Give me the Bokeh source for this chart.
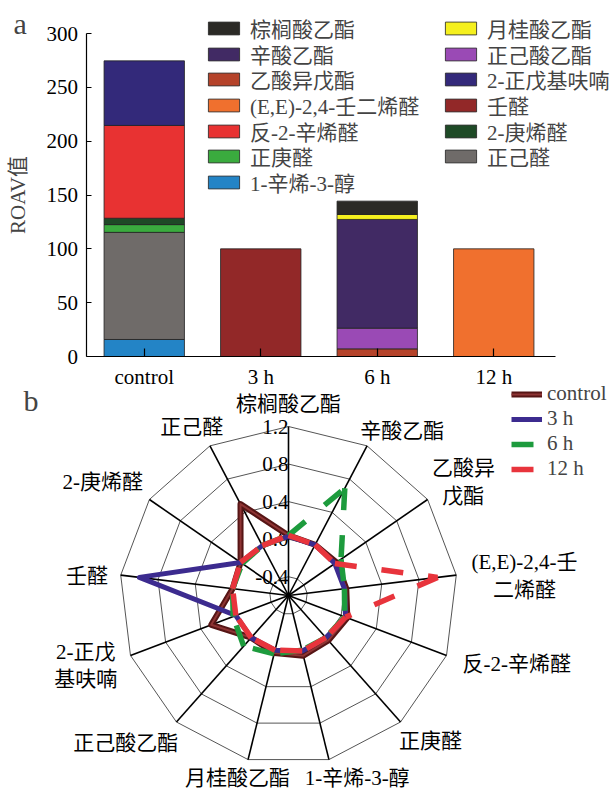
import math
from bokeh.plotting import figure
from bokeh.models import (Range1d, ColumnDataSource, Legend, LegendItem, Label,
                          FixedTicker, LinearAxis)
from bokeh.embed import file_html
from bokeh.resources import INLINE
from bokeh.core.properties import value

# ---------------- panel a data (ROAV) ----------------
categories = ["control", "3 h", "6 h", "12 h"]
y_ticks = [0, 50, 100, 150, 200, 250, 300]

# values for [control, 3 h, 6 h, 12 h]
octenol = [15.8, 0, 0, 0]            # 1-辛烯-3-醇
hexanal = [99.5, 0, 0, 0]            # 正己醛
heptanal = [7.2, 0, 0, 0]            # 正庚醛
heptenal = [5.9, 0, 0, 0]            # 2-庚烯醛
octenal = [86.2, 0, 0, 0]            # 反-2-辛烯醛
pentylfuran = [60.0, 0, 0, 0]        # 2-正戊基呋喃
nonanal = [0, 100.0, 0, 0]           # 壬醛
isoamyl_acetate = [0, 0, 7.1, 0]     # 乙酸异戊酯
ethyl_hexanoate = [0, 0, 19.2, 0]    # 正己酸乙酯
ethyl_octanoate = [0, 0, 101.0, 0]   # 辛酸乙酯
ethyl_laurate = [0, 0, 4.6, 0]       # 月桂酸乙酯
ethyl_palmitate = [0, 0, 12.4, 0]    # 棕榈酸乙酯
nonadienal = [0, 0, 0, 100.0]        # (E,E)-2,4-壬二烯醛

legend_left = ["棕榈酸乙酯", "辛酸乙酯", "乙酸异戊酯", "(E,E)-2,4-壬二烯醛",
               "反-2-辛烯醛", "正庚醛", "1-辛烯-3-醇"]
legend_right = ["月桂酸乙酯", "正己酸乙酯", "2-正戊基呋喃", "壬醛", "2-庚烯醛", "正己醛"]

# ---------------- panel b data (radar) ----------------
radar_axes = ["棕榈酸乙酯", "辛酸乙酯", "乙酸异\n戊酯", "(E,E)-2,4-壬\n二烯醛",
              "反-2-辛烯醛", "正庚醛", "1-辛烯-3-醇", "月桂酸乙酯", "正己酸乙酯",
              "2-正戊\n基呋喃", "壬醛", "2-庚烯醛", "正己醛"]
radar_ticks = [-0.4, 0.0, 0.4, 0.8, 1.2]
radar_series = ["control", "3 h", "6 h", "12 h"]
radar_control = [0.04, 0.01, 0.02, 0.02, 0.07, 0.04, 0.06, 0.03, 0.0, 0.28, 0.0, 0.02, 0.50]
radar_3h = [0.03, 0.01, 0.0, 0.0, 0.05, 0.0, 0.01, 0.0, 0.0, 0.0, 1.0, 0.02, 0.0]
radar_6h = [0.04, 0.69, 0.08, 0.0, 0.04, 0.0, 0.0, 0.04, 0.12, 0.03, 0.0, 0.0, 0.0]
radar_12h = [0.04, 0.01, 0.0, 1.0, 0.05, 0.0, 0.01, 0.0, 0.0, 0.0, 0.0, 0.02, 0.0]

FONT = "'Liberation Serif', 'Noto Sans CJK SC', serif"
FS = "21px"

# ---------------- layout constants (pixels) ----------------
W, H = 613, 792
BAR_X0, BAR_STEP = 85.5, 116.5          # pixel of category-axis origin, pixels per category
BAR_Y0, BAR_PPU = 356.0, 323.0 / 300.0  # pixel of ROAV 0, pixels per ROAV unit
CX, CY, R = 288.0, 595.0, 169.0         # radar centre and outer radius
LEG_TOP, LEG_PITCH, LEG_ITEM_H = 28.0, 25.7, 29.7   # bar legend rows
# small pixel nudges (dx right, dy up) for the radar's category labels
LABEL_NUDGE = [(0, 0), (10, -6), (0, -2), (4, -5), (9, 0), (1, -2), (13, 4),
               (5, 4), (-8, -4), (-4, 2), (-1, -4), (-4, 4), (2, -2)]

p = figure(width=W, height=H, x_range=Range1d(-CX, W - CX), y_range=Range1d(-(H - CY), CY),
           x_axis_location=None, y_axis_location=None, output_backend="svg",
           toolbar_location=None, min_border=0)
p.grid.visible = False
p.outline_line_color = None
p.extra_x_ranges = {"bar": Range1d(-BAR_X0 / BAR_STEP, (W - BAR_X0) / BAR_STEP)}
p.extra_y_ranges = {"bar": Range1d(-(H - BAR_Y0) / BAR_PPU, BAR_Y0 / BAR_PPU)}

# ================= panel a =================
stack = [
    ("1-辛烯-3-醇", octenol, "#2384c6"),
    ("正己醛", hexanal, "#6f6b69"),
    ("正庚醛", heptanal, "#3aab3e"),
    ("2-庚烯醛", heptenal, "#1e4a26"),
    ("反-2-辛烯醛", octenal, "#e83232"),
    ("2-正戊基呋喃", pentylfuran, "#33297a"),
    ("壬醛", nonanal, "#922828"),
    ("乙酸异戊酯", isoamyl_acetate, "#b5432a"),
    ("正己酸乙酯", ethyl_hexanoate, "#9a4ab5"),
    ("辛酸乙酯", ethyl_octanoate, "#412a64"),
    ("月桂酸乙酯", ethyl_laurate, "#f5f01e"),
    ("棕榈酸乙酯", ethyl_palmitate, "#2b2a26"),
    ("(E,E)-2,4-壬二烯醛", nonadienal, "#f0702e"),
]

base = [0.0] * len(categories)
bar_r = {}
for name, vals, color in stack:
    xs, bots, tops = [], [], []
    for i, v in enumerate(vals):
        if v > 0:
            xs.append(i + 0.5); bots.append(base[i]); tops.append(base[i] + v)
        base[i] += v
    src = ColumnDataSource(dict(x=xs, bottom=bots, top=tops))
    bar_r[name] = p.vbar(x="x", bottom="bottom", top="top", width=0.69, source=src,
                         fill_color=color, line_color="#222222", line_width=1, line_alpha=0.8,
                         x_range_name="bar", y_range_name="bar")

ya = LinearAxis(x_range_name="bar", y_range_name="bar", fixed_location=0,
                ticker=FixedTicker(ticks=y_ticks), bounds=(0, 300))
ya.major_tick_in = 5
ya.major_tick_out = 0
ya.minor_tick_line_color = None
ya.major_label_standoff = 8
ya.axis_label = "ROAV值"
ya.axis_label_standoff = 14
ya.axis_label_text_font = FONT
ya.axis_label_text_font_size = FS
ya.axis_label_text_font_style = "normal"

xa = LinearAxis(x_range_name="bar", y_range_name="bar", fixed_location=0,
                ticker=FixedTicker(ticks=[i + 0.5 for i in range(len(categories))]),
                bounds=(0, 4.03))
xa.major_label_overrides = {i + 0.5: c for i, c in enumerate(categories)}
xa.major_tick_in = 8
xa.major_tick_out = 0
xa.minor_tick_line_color = None
xa.major_label_standoff = 8

for ax in (xa, ya):
    ax.major_label_text_font = FONT
    ax.major_label_text_font_size = FS
    ax.major_label_text_color = "black"
    ax.axis_line_color = "black"
    ax.axis_line_width = 1.2
    ax.major_tick_line_color = "black"
    ax.major_tick_line_width = 1.2
p.add_layout(ya, "left")
p.add_layout(xa, "below")


def bar_legend(names, x_left):
    # one legend per row so the rows keep the reference's tight pitch
    for i, nm in enumerate(names):
        centre = LEG_TOP + i * LEG_PITCH
        lg = Legend(items=[LegendItem(label=nm, renderers=[bar_r[nm]])],
                    location=(x_left, H - (centre + LEG_ITEM_H / 2)),
                    glyph_width=39, glyph_height=16, label_standoff=7,
                    label_text_font=FONT, label_text_font_size=FS, label_height=20,
                    spacing=0, padding=0, margin=0, border_line_alpha=0,
                    background_fill_alpha=0)
        p.add_layout(lg)


bar_legend(legend_left, 204)
bar_legend(legend_right, 441)

p.add_layout(Label(x=13, y=H - 23, x_units="screen", y_units="screen", text="a",
                   text_font=FONT, text_font_size="30px", text_baseline="alphabetic"))

# ================= panel b =================
n = len(radar_axes)
VMIN, VMAX = -0.6, 1.2
ang = [2 * math.pi * i / n for i in range(n)]


def rad(v):
    return (v - VMIN) / (VMAX - VMIN) * R


ring_xs, ring_ys = [], []
for t in radar_ticks:
    rr = rad(t)
    ring_xs.append([rr * math.sin(a) for a in ang] + [0.0])
    ring_ys.append([rr * math.cos(a) for a in ang] + [rr])
p.multi_line(xs=ring_xs, ys=ring_ys, line_color="#555555", line_width=1)

p.multi_line(xs=[[0, R * math.sin(a)] for a in ang], ys=[[0, R * math.cos(a)] for a in ang],
             line_color="black", line_width=1.6)

p.text(x=[0] * len(radar_ticks), y=[rad(t) for t in radar_ticks],
       text=[f"{t:.1f}" for t in radar_ticks], text_align="right", text_baseline="middle",
       text_font=value(FONT), text_font_size=FS, text_color="black")


def text_w(s, size=21.0):
    w = 0.0
    for ch in s:
        if ord(ch) > 0x2E80:
            w += size
        elif ch in "(),-.":
            w += size * 0.3
        elif ch == "E":
            w += size * 0.61
        else:
            w += size * 0.5
    return w


pad = 12.0
lx, ly = [], []
for lab, a, (ndx, ndy) in zip(radar_axes, ang, LABEL_NUDGE):
    lines = lab.split("\n")
    w = max(text_w(s) for s in lines)
    h = 22.0 * len(lines)
    lx.append((R + pad) * math.sin(a) + w / 2 * math.sin(a) + ndx)
    ly.append((R + pad) * math.cos(a) + h / 2 * math.cos(a) + ndy)
p.text(x=lx, y=ly, text=radar_axes, text_align="center", text_baseline="middle",
       text_font=value(FONT), text_font_size=FS, text_color="black", text_line_height=1.15)


def closed_pts(vals):
    xs = [rad(v) * math.sin(a) for v, a in zip(vals, ang)]
    ys = [rad(v) * math.cos(a) for v, a in zip(vals, ang)]
    return xs + xs[:1], ys + ys[:1]


def segments(vals):
    xs, ys = closed_pts(vals)
    return [[xs[i], xs[i + 1]] for i in range(n)], [[ys[i], ys[i + 1]] for i in range(n)]


cx, cy = closed_pts(radar_control)
rc1 = p.line(cx, cy, line_color="#561515", line_width=6, line_join="round")
rc2 = p.line(cx, cy, line_color="#8e3434", line_width=2, line_join="round")
x3, y3 = closed_pts(radar_3h)
r3 = p.line(x3, y3, line_color="#3c2b8f", line_width=5, line_join="round")
x6, y6 = segments(radar_6h)
r6 = p.multi_line(xs=x6, ys=y6, line_color="#1d9b3d", line_width=5.5, line_dash="22 25")
x12, y12 = segments(radar_12h)
r12 = p.multi_line(xs=x12, ys=y12, line_color="#e8343c", line_width=5.5, line_dash="22 25")

lgb = Legend(items=[LegendItem(label=radar_series[0], renderers=[rc1, rc2]),
                    LegendItem(label=radar_series[1], renderers=[r3]),
                    LegendItem(label=radar_series[2], renderers=[r6]),
                    LegendItem(label=radar_series[3], renderers=[r12])],
             location=(511, H - 481), glyph_width=31, glyph_height=16, label_standoff=5,
             label_text_font=FONT, label_text_font_size=FS, label_height=20, spacing=-3,
             padding=0, margin=0, border_line_alpha=0, background_fill_alpha=0)
p.add_layout(lgb)

p.add_layout(Label(x=23, y=H - 400, x_units="screen", y_units="screen", text="b",
                   text_font=FONT, text_font_size="30px", text_baseline="alphabetic"))

open("out.html", "w").write(file_html(p, INLINE))
